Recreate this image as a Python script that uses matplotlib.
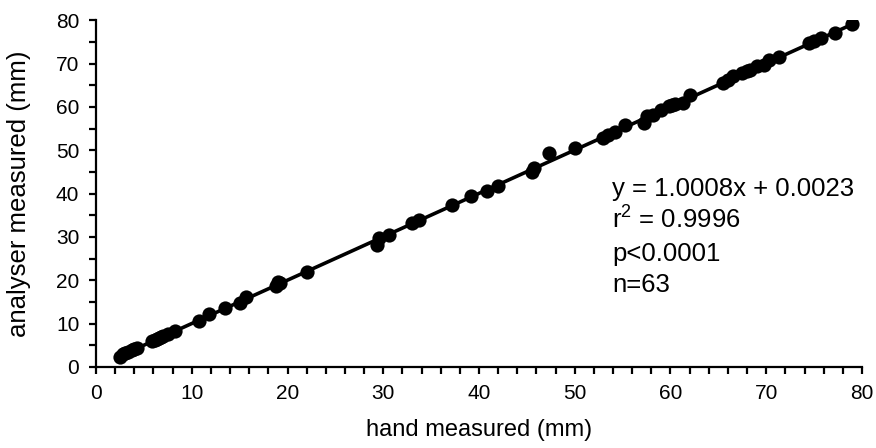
import matplotlib
matplotlib.use("Agg")
import matplotlib.pyplot as plt
import numpy as np
from matplotlib.ticker import MultipleLocator

plt.rcParams['font.family'] = ['Liberation Sans', 'DejaVu Sans']
plt.rcParams['mathtext.fontset'] = 'custom'
plt.rcParams['mathtext.rm'] = 'Liberation Sans'
plt.rcParams['mathtext.it'] = 'Liberation Sans'

hand = [2.5, 2.8, 3.0, 3.3, 3.8, 4.0, 4.3, 5.8, 6.2, 6.4, 6.6, 6.8, 7.0, 7.5, 8.2,
        10.8, 11.8, 13.5, 15.0, 15.7, 18.8, 19.0, 19.2, 22.0, 29.3, 29.6, 30.6,
        33.0, 33.7, 37.2, 39.2, 40.8, 42.0, 45.5, 45.7, 47.3, 50.0, 53.0, 53.5,
        54.2, 55.2, 57.2, 57.5, 58.2, 59.0, 59.8, 60.2, 60.5, 61.3, 62.0, 65.5,
        66.0, 66.5, 67.5, 68.0, 68.3, 69.0, 69.8, 70.3, 71.3, 74.5, 75.0, 75.7,
        77.2, 79.0]
analyser = [2.3, 2.9, 3.2, 3.4, 3.9, 4.2, 4.4, 5.9, 6.3, 6.5, 6.7, 7.0, 7.2, 7.6, 8.4,
            10.7, 12.2, 13.6, 14.7, 16.1, 18.6, 19.5, 19.4, 21.9, 28.2, 29.8, 30.4,
            33.2, 34.0, 37.4, 39.4, 40.6, 41.8, 45.0, 46.0, 49.4, 50.6, 52.9, 53.6,
            54.1, 55.8, 56.3, 57.9, 58.1, 59.3, 60.2, 60.4, 60.6, 61.0, 62.7, 65.6,
            66.1, 67.2, 67.7, 68.2, 68.5, 69.5, 69.7, 70.9, 71.6, 74.7, 75.1, 75.8,
            77.0, 79.0]
slope = 1.0008
intercept = 0.0023
stats = ["y = 1.0008x + 0.0023", r"r$^2$ = 0.9996", "p<0.0001", "n=63"]

fig = plt.figure(figsize=(8.76, 4.48), dpi=100)
ax = fig.add_axes([0.1096, 0.181, 0.8744, 0.774])

xl = np.array([min(hand), max(hand)])
ax.plot(xl, slope * xl + intercept, color='black', lw=2.6, zorder=2)
ax.scatter(hand, analyser, s=105, color='black', zorder=3, linewidths=0)

ax.set_xlim(0, 80)
ax.set_ylim(0, 80)
ax.xaxis.set_major_locator(MultipleLocator(10))
ax.xaxis.set_minor_locator(MultipleLocator(2))
ax.yaxis.set_major_locator(MultipleLocator(10))
ax.yaxis.set_minor_locator(MultipleLocator(5))
for s in ['top', 'right']:
    ax.spines[s].set_visible(False)
for s in ['left', 'bottom']:
    ax.spines[s].set_linewidth(1.6)
ax.tick_params(which='both', direction='out', width=1.6, length=5, labelsize=15)
ax.tick_params(axis='x', pad=7)
ax.tick_params(axis='y', pad=7)

ax.set_xlabel("hand measured (mm)", fontsize=17)
ax.set_ylabel("analyser measured (mm)", fontsize=18.5)
ax.xaxis.set_label_coords(0.5, -0.15)
ax.yaxis.set_label_coords(-0.085, 0.5)

ys = [39.4, 31.8, 24.4, 17.3]
for t, yy in zip(stats, ys):
    ax.text(53.9, yy, t, fontsize=18.5, va='baseline', ha='left')

fig.savefig("out.png", dpi=100, facecolor='white')
